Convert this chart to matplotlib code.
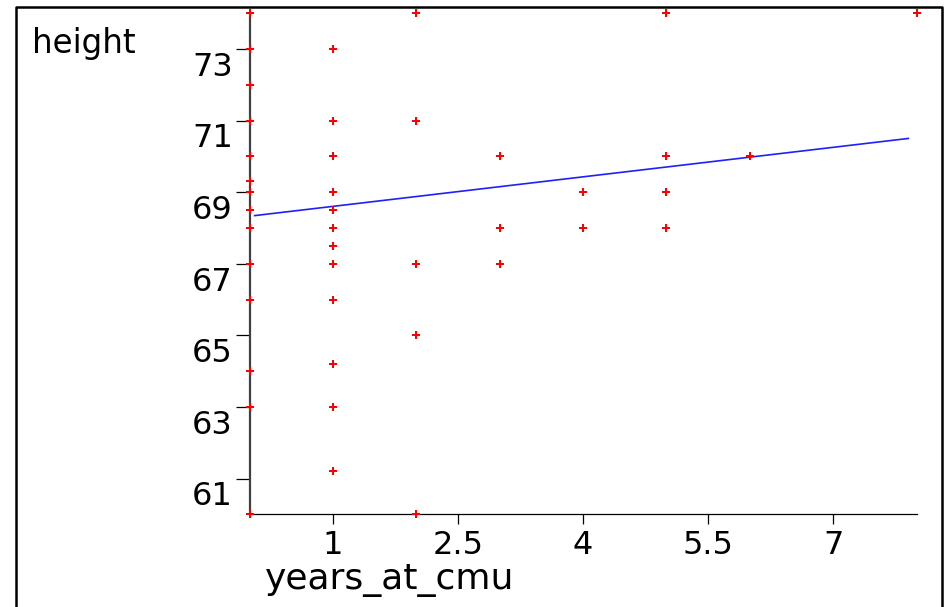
import numpy as np
import matplotlib
matplotlib.use('Agg')
import matplotlib.pyplot as plt
from matplotlib.lines import Line2D
from matplotlib.transforms import ScaledTranslation

# Data
years = [0, 0, 0, 0, 0, 0, 0, 0, 0, 0, 0, 0, 0, 0, 0, 0, 0,
         1, 1, 1, 1, 1, 1, 1, 1, 1, 1, 1, 1, 1, 1,
         2, 2, 2, 2, 2,
         3, 3, 3,
         4, 4, 4,
         5, 5, 5, 5, 5,
         6,
         8]
heights = [74, 73, 72, 72, 71, 70, 69.3, 69, 69, 68.5, 68, 67, 66, 64, 64, 63, 60,
           73, 71, 70, 69, 69, 68.5, 68, 67.5, 67, 66, 64.2, 63, 61.2, 61.2,
           74, 71, 67, 65, 60,
           70, 68, 67,
           69, 69, 68,
           74, 70, 69, 69, 68,
           70,
           74]

# fitted line (intercept / slope and x span)
fit_intercept = 68.33
fit_slope = 0.275
fit_span = [0.06, 7.9]

x_ticks = [1, 2.5, 4, 5.5, 7]
x_tick_labels = ['1', '2.5', '4', '5.5', '7']
y_ticks = [61, 63, 65, 67, 69, 71, 73]

plt.rcParams['font.family'] = ['DejaVu Sans']

fig = plt.figure(figsize=(9.46, 6.07), dpi=100)
W, H = 946, 607
ax = fig.add_axes([249.6 / W, (H - 514.3) / H, 667 / W, 501 / H])

ax.plot(years, heights, linestyle='none', marker='P', markersize=6,
        markeredgewidth=0, color='#ff0000', clip_on=False, zorder=3)

fx = np.array(fit_span)
ax.plot(fx, fit_intercept + fit_slope * fx, color='#2020ff', linewidth=1.2, zorder=2)

ax.set_xlim(0, 8)
ax.set_ylim(60, 74)

ax.spines['top'].set_visible(False)
ax.spines['right'].set_visible(False)
ax.spines['left'].set_linewidth(1.6)
ax.spines['left'].set_color('#404040')
ax.spines['bottom'].set_linewidth(0.9)

ax.set_xticks(x_ticks)
ax.set_xticklabels(x_tick_labels)
ax.set_yticks(y_ticks)
ax.tick_params(axis='x', length=7.2, width=0.9, pad=4, labelsize=23)
ax.tick_params(axis='y', length=10, width=0.9, pad=2, labelsize=23)
for lab in ax.get_yticklabels():
    lab.set_va('top')
    lab.set_transform(lab.get_transform() + ScaledTranslation(0, -2 / 72, fig.dpi_scale_trans))

ax.set_xlabel('years_at_cmu', fontsize=26)
ax.xaxis.label.set_ha('left')
ax.xaxis.label.set_va('center')
ax.xaxis.set_label_coords((265 - 249.6) / 667, (514.3 - 580) / 501)

ax.set_ylabel('height', rotation=0, fontsize=23.5)
ax.yaxis.label.set_ha('left')
ax.yaxis.label.set_va('center')
ax.yaxis.set_label_coords((32 - 249.6) / 667, (514.3 - 43) / 501)

# outer frame (left, top, right)
x0, x1, y1 = 16 / W, 942 / W, (H - 7) / H
fig.add_artist(Line2D([x0, x0, x1, x1], [-0.01, y1, y1, -0.01],
                      transform=fig.transFigure, color='black', linewidth=1.8))

fig.savefig('out.png', dpi=100)
